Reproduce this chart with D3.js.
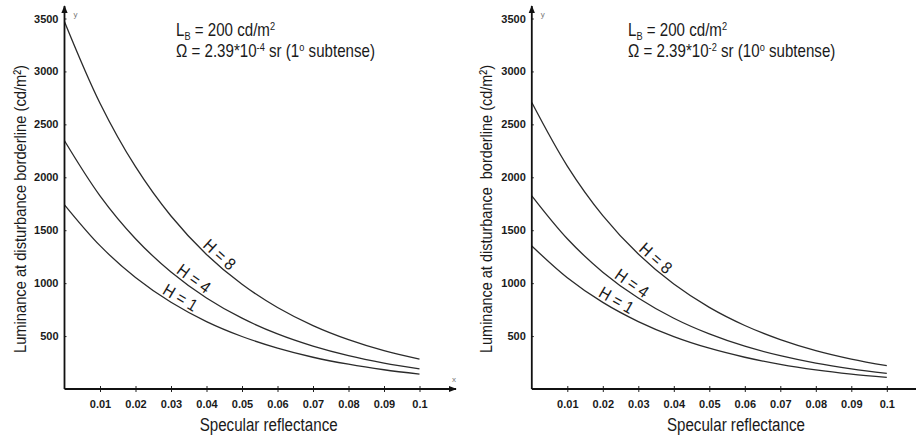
<!DOCTYPE html>
<html>
<head>
<meta charset="utf-8">
<script src="https://cdn.jsdelivr.net/npm/d3@7"></script>
<style>
    html, body { margin: 0; padding: 0; background: #fff; }
    svg { display: block; }
    text { font-family: "Liberation Sans", Arial, sans-serif; fill: #1a1a1a; }
</style>
</head>
<body>
<div id="chart"></div>
<script>
'use strict';

// Data
const rho = [0, 0.01, 0.02, 0.03, 0.04, 0.05, 0.06, 0.07, 0.08, 0.09, 0.1];
const xTicks = [0.01, 0.02, 0.03, 0.04, 0.05, 0.06, 0.07, 0.08, 0.09, 0.1];
const xTickLabels = ['0.01', '0.02', '0.03', '0.04', '0.05', '0.06', '0.07', '0.08', '0.09', '0.1'];
const yTicks = [500, 1000, 1500, 2000, 2500, 3000, 3500];
const seriesNames = ['H = 1', 'H = 4', 'H = 8'];

// 1 deg subtense
const leftH1 = [1740, 1354, 1053, 819, 637, 496, 386, 300, 234, 182, 141];
const leftH4 = [2345, 1825, 1420, 1105, 860, 669, 520, 405, 315, 245, 190];
const leftH8 = [3470, 2700, 2100, 1634, 1271, 989, 770, 599, 466, 362, 282];

// 10 deg subtense
const rightH1 = [1351, 1051, 818, 637, 495, 385, 300, 233, 181, 141, 110];
const rightH4 = [1824, 1419, 1104, 859, 668, 520, 404, 315, 245, 191, 148];
const rightH8 = [2706, 2106, 1638, 1275, 991, 771, 600, 467, 363, 283, 220];

const yTitle = 'Luminance at disturbance borderline (cd/m²)';
const xTitle = 'Specular reflectance';

// Config
const w = 916;
const h = 439;
const narrow = 0.84;

const svg = d3.select('#chart')
    .append('svg')
    .attr('width', w)
    .attr('height', h);

// Arrow marker
svg.append('defs')
    .append('marker')
    .attr('id', 'arrow')
    .attr('viewBox', '0 0 10 10')
    .attr('refX', 9)
    .attr('refY', 5)
    .attr('markerWidth', 8)
    .attr('markerHeight', 8)
    .attr('markerUnits', 'userSpaceOnUse')
    .attr('orient', 'auto')
    .append('path')
    .attr('d', 'M0,1 L10,5 L0,9 Z')
    .attr('fill', '#111');

function pointAtX(node, px) {
    const total = node.getTotalLength();
    let lo = 0, hi = total;
    for (let i = 0; i < 40; i++) {
        const mid = (lo + hi) / 2;
        if (node.getPointAtLength(mid).x < px) lo = mid; else hi = mid;
    }
    const p = node.getPointAtLength(lo);
    const a = node.getPointAtLength(Math.max(0, lo - 6));
    const b = node.getPointAtLength(Math.min(total, lo + 6));
    return {x: p.x, y: p.y, angle: Math.atan2(b.y - a.y, b.x - a.x) * 180 / Math.PI};
}

function drawPanel(cfg) {
    const g = svg.append('g').attr('class', 'panel');

    const x = d3.scaleLinear().domain([0, 0.1]).range([cfg.x0, cfg.x0 + 355]);
    const y = d3.scaleLinear().domain([0, 3500]).range([389, 18.5]);

    // Curves
    const line = d3.line()
        .x((d, i) => x(rho[i]))
        .y(d => y(d))
        .curve(d3.curveCatmullRom);

    const paths = cfg.series.map(s => g.append('path')
        .datum(s)
        .attr('d', line)
        .attr('fill', 'none')
        .attr('stroke', '#2b2b2b')
        .attr('stroke-width', 1.3));

    // Curve labels
    paths.forEach((p, i) => {
        const pt = pointAtX(p.node(), x(cfg.labelAt[i]));
        g.append('text')
            .attr('transform', `translate(${pt.x},${pt.y}) rotate(${pt.angle}) scale(0.9,1)`)
            .attr('text-anchor', 'middle')
            .attr('dy', -3)
            .style('font-size', '17px')
            .text(seriesNames[i]);
    });

    // X axis
    const xAxis = g.append('g')
        .attr('transform', `translate(0,${y(0)})`)
        .call(d3.axisBottom(x)
            .tickValues(xTicks)
            .tickFormat((d, i) => xTickLabels[i])
            .tickSize(3)
            .tickPadding(8));
    xAxis.select('.domain').remove();
    xAxis.selectAll('.tick line').attr('y1', -3).attr('stroke', '#222');
    xAxis.selectAll('.tick text')
        .style('font-size', '11px')
        .style('font-weight', 'bold')
        .attr('fill', '#222');

    g.append('line')
        .attr('x1', cfg.x0).attr('x2', cfg.xEnd)
        .attr('y1', y(0)).attr('y2', y(0))
        .attr('stroke', '#111')
        .attr('stroke-width', 1.8)
        .attr('marker-end', 'url(#arrow)');

    // Y axis
    const yAxis = g.append('g')
        .attr('transform', `translate(${cfg.x0},0)`)
        .call(d3.axisLeft(y)
            .tickValues(yTicks)
            .tickFormat(d3.format('d'))
            .tickSize(4)
            .tickPadding(2));
    yAxis.select('.domain').remove();
    yAxis.selectAll('.tick line').attr('x2', 2).attr('stroke', '#222');
    yAxis.selectAll('.tick text')
        .style('font-size', '11px')
        .style('font-weight', 'bold')
        .attr('fill', '#222');

    g.append('line')
        .attr('x1', cfg.x0).attr('x2', cfg.x0)
        .attr('y1', y(0)).attr('y2', 6)
        .attr('stroke', '#111')
        .attr('stroke-width', 1.8)
        .attr('marker-end', 'url(#arrow)');

    // Axis letters
    g.append('text')
        .attr('x', cfg.x0 + 9).attr('y', 17)
        .style('font-size', '8px')
        .style('fill', '#777')
        .text('y');
    if (cfg.xEnd < w) {
        g.append('text')
            .attr('x', cfg.xEnd - 4).attr('y', 382)
            .style('font-size', '8px')
            .style('fill', '#777')
            .text('x');
    }

    // Axis titles
    g.append('text')
        .attr('transform', `translate(${cfg.yTitleX},209) rotate(-90)`)
        .attr('text-anchor', 'middle')
        .attr('textLength', 288)
        .attr('lengthAdjust', 'spacingAndGlyphs')
        .style('font-size', '17px')
        .style('white-space', 'pre')
        .text(cfg.yTitle);

    g.append('text')
        .attr('x', x(0.0575)).attr('y', 431)
        .attr('text-anchor', 'middle')
        .attr('textLength', 138)
        .attr('lengthAdjust', 'spacingAndGlyphs')
        .style('font-size', '18px')
        .text(xTitle);

    // Annotation
    const annG = g.append('g')
        .attr('transform', `translate(${cfg.annX},0) scale(${narrow},1)`);

    const ann = annG.append('text')
        .attr('x', 0).attr('y', 36)
        .style('font-size', '18px');
    ann.append('tspan').text('L');
    ann.append('tspan').attr('dy', 4).style('font-size', '11px').text('B');
    ann.append('tspan').attr('dy', -4).text(' = 200 cd/m');
    ann.append('tspan').attr('dy', -6).style('font-size', '11px').text('2');

    const ann2 = annG.append('text')
        .attr('x', 0).attr('y', 57)
        .style('font-size', '18px');
    ann2.append('tspan').text('Ω = 2.39*10');
    ann2.append('tspan').attr('dy', -6).style('font-size', '11px').text(cfg.exp);
    ann2.append('tspan').attr('dy', 6).text(' sr (' + cfg.deg);
    ann2.append('tspan').attr('dy', -6).style('font-size', '11px').text('o');
    ann2.append('tspan').attr('dy', 6).text(' subtense)');
}

drawPanel({
    x0: 64.5, xEnd: 456, series: [leftH1, leftH4, leftH8],
    labelAt: [0.0314, 0.035, 0.042],
    yTitleX: 26, yTitle: yTitle, annX: 176, exp: '-4', deg: '1'
});

drawPanel({
    x0: 531.8, xEnd: 924, series: [rightH1, rightH4, rightH8],
    labelAt: [0.0226, 0.0268, 0.0333],
    yTitleX: 492, yTitle: 'Luminance at disturbance  borderline (cd/m²)', annX: 628, exp: '-2', deg: '10'
});
</script>
</body>
</html>
